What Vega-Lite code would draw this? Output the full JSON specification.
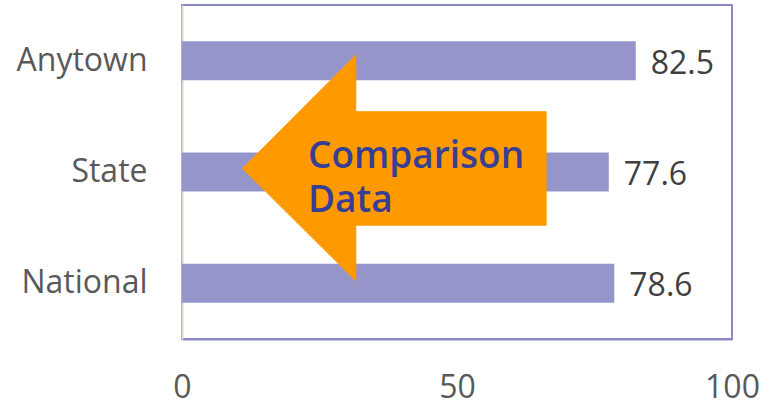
{
  "$schema": "https://vega.github.io/schema/vega-lite/v6.json",
  "width": 550,
  "height": 334,
  "autosize": {"type": "none"},
  "padding": {"left": 182, "top": 5, "right": 39, "bottom": 62},
  "background": "white",
  "config": {
    "font": "Open Sans",
    "view": {"stroke": "#8c89c7", "strokeWidth": 2}
  },
  "datasets": {
    "bars": [
      {"region": "Anytown", "value": 82.5},
      {"region": "State", "value": 77.6},
      {"region": "National", "value": 78.6}
    ],
    "arrow": [
      {"ax": 11.0, "ay": 1.468, "ord": 1},
      {"ax": 31.6, "ay": 0.449, "ord": 2},
      {"ax": 31.6, "ay": 0.959, "ord": 3},
      {"ax": 66.2, "ay": 0.959, "ord": 4},
      {"ax": 66.2, "ay": 1.978, "ord": 5},
      {"ax": 31.6, "ay": 1.978, "ord": 6},
      {"ax": 31.6, "ay": 2.478, "ord": 7},
      {"ax": 11.0, "ay": 1.468, "ord": 8}
    ],
    "note": [
      {"tx": 22.9, "ty": 1.465, "label": "Comparison"},
      {"tx": 22.9, "ty": 1.861, "label": "Data"}
    ]
  },
  "layer": [
    {
      "data": {"name": "bars"},
      "encoding": {
        "y": {
          "field": "region",
          "type": "nominal",
          "sort": null,
          "scale": {"paddingInner": 0.65, "paddingOuter": 0.325},
          "axis": {
            "title": null,
            "ticks": false,
            "labelFontSize": 32,
            "labelColor": "#595959",
            "labelPadding": 35,
            "labelLimit": 400,
            "domainColor": "#d9d9d9",
            "domainWidth": 2
          }
        },
        "x": {
          "field": "value",
          "type": "quantitative",
          "scale": {"domain": [0, 100], "nice": false},
          "axis": {
            "title": null,
            "values": [0, 50, 100],
            "ticks": false,
            "grid": false,
            "labelFontSize": 32,
            "labelColor": "#595959",
            "labelPadding": 33,
            "labelFlush": false,
            "labelOverlap": false,
            "domainColor": "#8c89c7",
            "domainWidth": 2
          }
        }
      },
      "layer": [
        {"mark": {"type": "bar", "color": "#9595c9"}},
        {
          "mark": {"type": "text", "align": "left", "baseline": "middle", "dx": 15, "dy": 3, "fontSize": 32, "color": "#404040"},
          "encoding": {"text": {"field": "value", "type": "quantitative", "format": ".1f"}}
        }
      ]
    },
    {
      "layer": [
        {
          "data": {"name": "arrow"},
          "mark": {"type": "line", "fill": "#ff9900", "stroke": "#ff9900", "strokeWidth": 1, "interpolate": "linear"},
          "encoding": {
            "x": {"field": "ax", "type": "quantitative"},
            "y": {"field": "ay", "type": "quantitative", "scale": {"domain": [0, 3], "reverse": true, "nice": false, "zero": false}, "axis": null},
            "order": {"field": "ord", "type": "quantitative"}
          }
        },
        {
          "data": {"name": "note"},
          "mark": {"type": "text", "align": "left", "baseline": "alphabetic", "fontSize": 37, "fontWeight": 600, "color": "#373e93"},
          "encoding": {
            "x": {"field": "tx", "type": "quantitative"},
            "y": {"field": "ty", "type": "quantitative", "scale": {"domain": [0, 3], "reverse": true, "nice": false, "zero": false}, "axis": null},
            "text": {"field": "label", "type": "nominal"}
          }
        }
      ]
    }
  ],
  "resolve": {"scale": {"y": "independent"}}
}
